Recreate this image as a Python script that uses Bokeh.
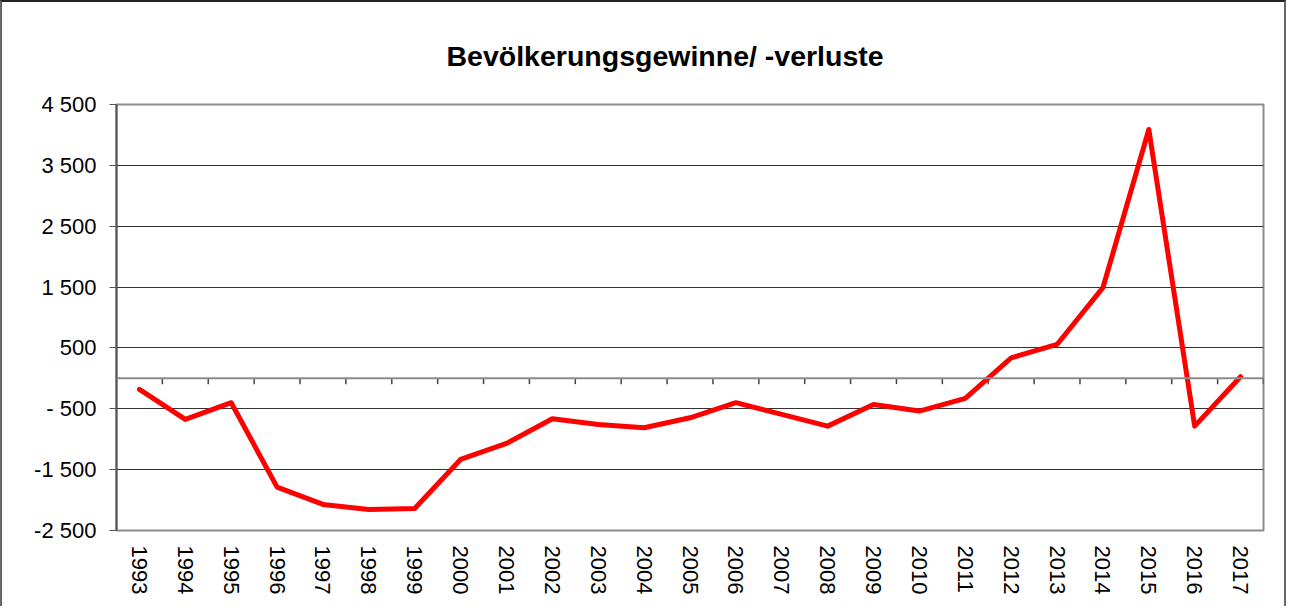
from bokeh.plotting import figure
from bokeh.models import FixedTicker, Span, Range1d
from bokeh.embed import file_html
from bokeh.resources import INLINE

# ---- data ----
years = [str(y) for y in range(1993, 2018)]
values = [-180, -675, -400, -1787, -2072, -2154, -2138, -1333, -1070, -664,
          -757, -812, -648, -400, -593, -785, -429, -538, -330, 338,
          557, 1490, 4090, -785, 26]
y_ticks = [-2500, -1500, -500, 500, 1500, 2500, 3500, 4500]
y_labels = ["-2 500", "-1 500", "- 500", "500", "1 500", "2 500", "3 500", "4 500"]
title_text = "Bevölkerungsgewinne/ -verluste"

FONT = "Liberation Sans"
xs = list(range(len(years)))

p = figure(width=1286, height=606, output_backend="svg", toolbar_location=None,
           x_range=Range1d(-0.5, len(years) - 0.5),
           y_range=Range1d(y_ticks[0], y_ticks[-1]),
           min_border_left=114, min_border_right=25, min_border_top=102,
           min_border_bottom=78)
p.styles = {"border-top": "2px solid #222", "border-left": "2px solid #666",
            "border-right": "2px solid #666"}

p.title.text = title_text
p.title.text_font = FONT
p.title.text_font_size = "28.5px"
p.title.text_font_style = "bold"
p.title.text_color = "black"
p.title.align = "left"
p.title.offset = 330
p.title.standoff = 66

p.background_fill_color = "white"
p.border_fill_color = "white"
p.outline_line_color = "#8c8c8c"
p.outline_line_width = 2

# y axis
p.yaxis.ticker = FixedTicker(ticks=y_ticks)
p.yaxis.major_label_overrides = {t: l for t, l in zip(y_ticks, y_labels)}
p.yaxis.major_label_text_font = FONT
p.yaxis.major_label_text_font_size = "22px"
p.yaxis.major_label_text_color = "black"
p.yaxis.axis_line_color = "#555555"
p.yaxis.axis_line_width = 2
p.yaxis.major_tick_line_color = "#555555"
p.yaxis.major_tick_out = 7
p.yaxis.major_tick_in = 0
p.yaxis.minor_tick_line_color = None
p.yaxis.major_label_standoff = 13

# x axis (labels only)
p.xaxis.ticker = FixedTicker(ticks=xs)
p.xaxis.major_label_overrides = {i: y for i, y in zip(xs, years)}
p.xaxis.major_label_orientation = "vertical"
p.xaxis.major_label_text_font = FONT
p.xaxis.major_label_text_font_size = "22px"
p.xaxis.major_label_text_color = "black"
p.xaxis.axis_line_color = None
p.xaxis.major_tick_line_color = None
p.xaxis.minor_tick_line_color = None
p.xaxis.major_label_standoff = 9

p.xgrid.grid_line_color = None
p.ygrid.ticker = FixedTicker(ticks=y_ticks)
p.ygrid.grid_line_color = "#333333"
p.ygrid.grid_line_width = 1

# zero line with category separators
p.add_layout(Span(location=0, dimension="width", line_color="#8c8c8c", line_width=2))
bounds = [i + 0.5 for i in xs]
p.segment(x0=bounds, y0=[0] * len(bounds), x1=bounds, y1=[-95] * len(bounds),
          line_color="#444444", line_width=1.5)

p.line(xs, values, line_color="#ff0000", line_width=5, line_join="round", line_cap="round")

open("out.html", "w").write(file_html(p, INLINE))
